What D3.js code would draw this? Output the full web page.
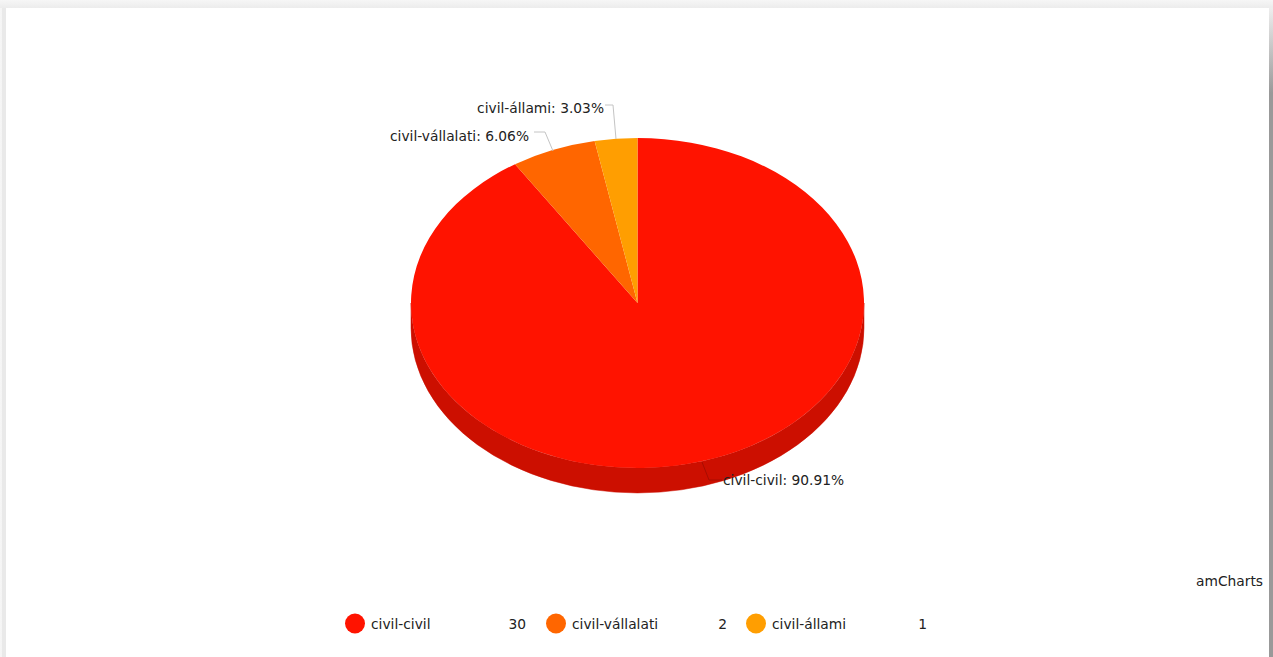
<!DOCTYPE html>
<html><head><meta charset="utf-8">
<script src="https://cdn.jsdelivr.net/npm/d3@7/dist/d3.min.js"></script>
<style>
html,body{margin:0;padding:0;background:#fff;overflow:hidden;width:1273px;height:657px}
.edge{position:absolute}
#top{left:0;top:0;width:1273px;height:8px;background:linear-gradient(to bottom,#f6f6f6,#ececec)}
#left{left:0;top:8px;width:6px;height:649px;background:linear-gradient(to right,#f6f6f6,#f4f4f4 30%,#e9e9e9 35%,#e9e9e9)}
#right{left:1269px;top:8px;width:4px;height:649px;background:linear-gradient(to bottom,#eeeeee,#999999 85px,#999999)}
svg{position:absolute;left:0;top:0}
text{font-family:"DejaVu Sans",sans-serif;fill:#222}
</style></head><body>
<div class="edge" id="top"></div><div class="edge" id="left"></div><div class="edge" id="right"></div>
<svg id="c" width="1273" height="657"></svg>
<script>
const categories=["civil-civil","civil-vállalati","civil-állami"];
const values=[30,2,1];
const percents=["90.91%","6.06%","3.03%"];
const colors=["#FF1300","#FF6600","#FF9E01"];
const sideColors=["#CC0F00","#CC5200","#CC7E01"];
const cx=637.5,cy=303,rx=226.5,ry=165,depth=25,fs=13.8;
const svg=d3.select("#c");
const pie=d3.pie().sort(null).value(d=>d.v);
const arcs=pie(categories.map((c,i)=>({c,v:values[i],i})));
const arc=d3.arc().innerRadius(0).outerRadius(rx);
const ys=ry/rx;
const g=svg.append("g");
function sidePath(a){
  const s=Math.max(a.startAngle,Math.PI/2),e=Math.min(a.endAngle,3*Math.PI/2);
  if(e<=s)return null;
  const p=t=>[cx+rx*Math.sin(t),cy-ry*Math.cos(t)];
  const [x0,y0]=p(s),[x1,y1]=p(e);
  return `M${x0},${y0}A${rx},${ry} 0 0 1 ${x1},${y1}L${x1},${y1+depth}A${rx},${ry} 0 0 0 ${x0},${y0+depth}Z`;
}
g.selectAll("path.side").data(arcs).join("path").attr("class","side")
 .attr("d",sidePath).attr("fill",d=>sideColors[d.data.i]).attr("stroke",d=>sideColors[d.data.i]).attr("stroke-width",.5);
g.selectAll("path.top").data(arcs).join("path").attr("class","top")
 .attr("transform",`translate(${cx},${cy}) scale(1,${ys})`)
 .attr("d",arc).attr("fill",d=>colors[d.data.i]);
const labelPos=[
 {pts:[[702,462],[709,480],[722,480]],x:723,y:480,a:"start",stroke:"#a80c00"},
 {pts:[[553,151],[545,132],[534,132]],x:529,y:136,a:"end",stroke:"#c4c4c4"},
 {pts:[[616,139],[613,105],[605,105]],x:604,y:108,a:"end",stroke:"#c4c4c4"}];
categories.forEach((c,i)=>{
 const l=labelPos[i];
 svg.append("path").attr("d",d3.line()(l.pts)).attr("fill","none").attr("stroke",l.stroke).attr("stroke-width",1);
 svg.append("text").attr("x",l.x).attr("y",l.y).attr("dy","0.35em").attr("text-anchor",l.a)
  .attr("font-size",fs).text(`${c}: ${percents[i]}`);
});
svg.append("text").attr("x",1263).attr("y",581).attr("dy","0.35em").attr("text-anchor","end").attr("font-size",fs).text("amCharts");
const legX=[355,556,756],valX=[526,727,927],legY=624;
categories.forEach((c,i)=>{
 svg.append("circle").attr("cx",legX[i]).attr("cy",legY-.5).attr("r",10).attr("fill",colors[i]);
 svg.append("text").attr("x",legX[i]+16).attr("y",legY).attr("dy","0.35em").attr("font-size",fs).text(c);
 svg.append("text").attr("x",valX[i]).attr("y",legY).attr("dy","0.35em").attr("text-anchor","end").attr("font-size",fs).text(values[i]);
});
</script></body></html>
